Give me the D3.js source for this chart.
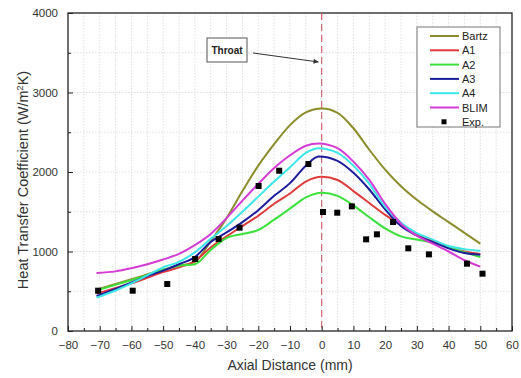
<!DOCTYPE html>
<html><head><meta charset="utf-8">
<script src="https://cdn.jsdelivr.net/npm/d3@7"></script>
<style>body{margin:0;background:#fff}svg{font-family:"Liberation Sans",Arial,sans-serif}</style>
</head><body><svg id="c" width="521" height="378"></svg>
<script>
const xTicks = [-80,-70,-60,-50,-40,-30,-20,-10,0,10,20,30,40,50,60];
const yTicks = [0,1000,2000,3000,4000];
const seriesNames = ["Bartz","A1","A2","A3","A4","BLIM"];
const seriesColors = ["#8c8c2c","#e03a3a","#3be03b","#1c1c9c","#3ae6e6","#d43ad4"];
const bartzX = [-71,-60,-50,-45,-40,-35,-30,-25,-20,-15,-10,-5,0,5,10,15,20,25,30,35,40,45,50];
const bartzY = [520,650,770,820,870,1130,1420,1760,2080,2350,2590,2750,2800,2745,2550,2280,2030,1820,1650,1505,1370,1235,1100];
const a1X = [-71,-60,-50,-45,-40,-35,-30,-25,-20,-15,-10,-5,0,5,10,15,20,25,30,35,40,45,50];
const a1Y = [470,600,740,800,880,1050,1190,1320,1450,1600,1730,1880,1940,1900,1760,1610,1460,1330,1220,1130,1060,1000,970];
const a2X = [-71,-65,-60,-55,-50,-45,-40,-35,-30,-25,-20,-15,-10,-5,0,5,10,15,20,25,30,35,40,45,50];
const a2Y = [510,580,640,700,770,820,840,1020,1170,1220,1270,1400,1540,1680,1740,1700,1580,1430,1290,1190,1150,1110,1050,990,930];
const a3X = [-71,-65,-60,-55,-50,-45,-40,-35,-30,-25,-20,-15,-10,-5,-1,5,10,15,20,25,30,35,40,45,50];
const a3Y = [440,530,610,690,760,840,930,1120,1240,1370,1520,1700,1860,2080,2195,2140,1990,1780,1530,1320,1200,1120,1040,980,960];
const a4X = [-71,-65,-60,-55,-50,-45,-40,-35,-30,-25,-20,-15,-10,-5,-1,5,10,15,20,25,30,35,40,45,50];
const a4Y = [420,510,600,700,800,870,990,1160,1320,1500,1690,1880,2060,2240,2300,2240,2080,1850,1560,1360,1230,1150,1070,1030,1010];
const blimX = [-71,-65,-60,-55,-50,-45,-40,-35,-30,-25,-20,-15,-10,-5,-1,5,10,15,20,25,30,35,40,45,50];
const blimY = [730,750,790,840,900,970,1080,1220,1420,1640,1850,2050,2210,2330,2360,2300,2130,1900,1600,1350,1200,1100,1000,890,810];
const expX = [-70.5,-59.6,-48.7,-39.9,-32.5,-25.9,-19.9,-13.4,-4.2,0.4,4.9,9.5,14,17.4,22.5,27.3,33.8,45.8,50.7];
const expY = [507,507,591,906,1157,1300,1824,2016,2100,1497,1488,1568,1153,1216,1371,1040,964,847,721];

const svg = d3.select("#c");
const L=68, T=13, R=512, B=331;
const x = d3.scaleLinear().domain([-80,60]).range([L,R]);
const y = d3.scaleLinear().domain([0,4000]).range([B,T]);

// grid
const g = svg.append("g");
g.selectAll(".gx").data(d3.range(-75,60,5)).join("line")
  .attr("x1",d=>x(d)).attr("x2",d=>x(d)).attr("y1",T).attr("y2",B)
  .attr("stroke","#d8d8d8").attr("stroke-width",0.8).attr("stroke-dasharray","1.5,1.5");
g.selectAll(".gy").data(d3.range(500,4000,500)).join("line")
  .attr("y1",d=>y(d)).attr("y2",d=>y(d)).attr("x1",L).attr("x2",R)
  .attr("stroke","#d8d8d8").attr("stroke-width",0.8).attr("stroke-dasharray","1.5,1.5");

// axes
const xa = svg.append("g").attr("transform",`translate(0,${B})`)
  .call(d3.axisBottom(x).tickValues(xTicks).tickSize(-5).tickPadding(10).tickFormat(d3.format("d")));
const xm = svg.append("g").attr("transform",`translate(0,${B})`)
  .call(d3.axisBottom(x).tickValues(d3.range(-75,60,10)).tickSize(-3).tickFormat(""));
const ya = svg.append("g").attr("transform",`translate(${L},0)`)
  .call(d3.axisLeft(y).tickValues(yTicks).tickSize(-5).tickPadding(10).tickFormat(d3.format("d")));
const ym = svg.append("g").attr("transform",`translate(${L},0)`)
  .call(d3.axisLeft(y).tickValues(d3.range(500,4000,1000)).tickSize(-3).tickFormat(""));
[xa,xm,ya,ym].forEach(a=>{a.select(".domain").remove();a.selectAll("line").attr("stroke","#222");
  a.selectAll("text").attr("font-size",11.5).attr("fill","#333").attr("font-family","Liberation Sans, Arial");});
svg.append("rect").attr("x",L).attr("y",T).attr("width",R-L).attr("height",B-T)
  .attr("fill","none").attr("stroke","#222").attr("stroke-width",1.3);

// throat line
svg.append("line").attr("x1",x(0)).attr("x2",x(0)).attr("y1",T).attr("y2",B)
  .attr("stroke","#c84a5a").attr("stroke-width",1).attr("stroke-dasharray","7,4");

// series
const xs=[bartzX,a1X,a2X,a3X,a4X,blimX], ys=[bartzY,a1Y,a2Y,a3Y,a4Y,blimY];
const line = d3.line().x(d=>x(d[0])).y(d=>y(d[1])).curve(d3.curveMonotoneX);
seriesNames.forEach((n,i)=>{
  const data = xs[i].map((v,j)=>[v,ys[i][j]]);
  svg.append("path").datum(data).attr("d",line).attr("fill","none")
    .attr("stroke",seriesColors[i]).attr("stroke-width",2);
});
// exp points
svg.selectAll(".pt").data(expX.map((v,i)=>[v,expY[i]])).join("rect")
  .attr("x",d=>x(d[0])-3).attr("y",d=>y(d[1])-3).attr("width",6).attr("height",6).attr("fill","#000");

// throat annotation
svg.append("rect").attr("x",207).attr("y",38).attr("width",40).attr("height",24)
  .attr("fill","#fff").attr("stroke","#555").attr("stroke-width",1);
svg.append("text").attr("x",227).attr("y",54).attr("text-anchor","middle")
  .attr("font-size",10).attr("font-weight","bold").attr("fill","#222").text("Throat");
svg.append("defs").append("marker").attr("id","ah").attr("viewBox","0 0 10 10")
  .attr("refX",10).attr("refY",5).attr("markerWidth",7).attr("markerHeight",5).attr("orient","auto")
  .append("path").attr("d","M0,0L10,5L0,10z").attr("fill","#333");
svg.append("line").attr("x1",253).attr("y1",53).attr("x2",x(-1)).attr("y2",62)
  .attr("stroke","#333").attr("stroke-width",1).attr("marker-end","url(#ah)");

// legend
const lg = svg.append("g");
lg.append("rect").attr("x",417).attr("y",27).attr("width",83).attr("height",100)
  .attr("fill","#fff").attr("stroke","#777").attr("stroke-width",1);
seriesNames.forEach((n,i)=>{
  const yy = 36 + i*14.3;
  lg.append("line").attr("x1",430).attr("x2",459).attr("y1",yy).attr("y2",yy)
    .attr("stroke",seriesColors[i]).attr("stroke-width",2);
  lg.append("text").attr("x",462).attr("y",yy+4).attr("font-size",11).attr("fill","#222").text(n);
});
lg.append("rect").attr("x",441.5).attr("y",121.8-2.5).attr("width",5).attr("height",5).attr("fill","#000");
lg.append("text").attr("x",462).attr("y",125.8).attr("font-size",11).attr("fill","#222").text("Exp.");

// axis titles
svg.append("text").attr("x",290).attr("y",370).attr("text-anchor","middle")
  .attr("font-size",14).attr("fill","#333").text("Axial Distance (mm)");
const yt = svg.append("text").attr("transform","translate(28,180) rotate(-90)").attr("text-anchor","middle")
  .attr("font-size",14.5).attr("fill","#333");
yt.append("tspan").text("Heat Transfer Coefficient (W/m");
yt.append("tspan").attr("dy",-5).attr("font-size",9).text("2");
yt.append("tspan").attr("dy",5).text("K)");
</script></body></html>
